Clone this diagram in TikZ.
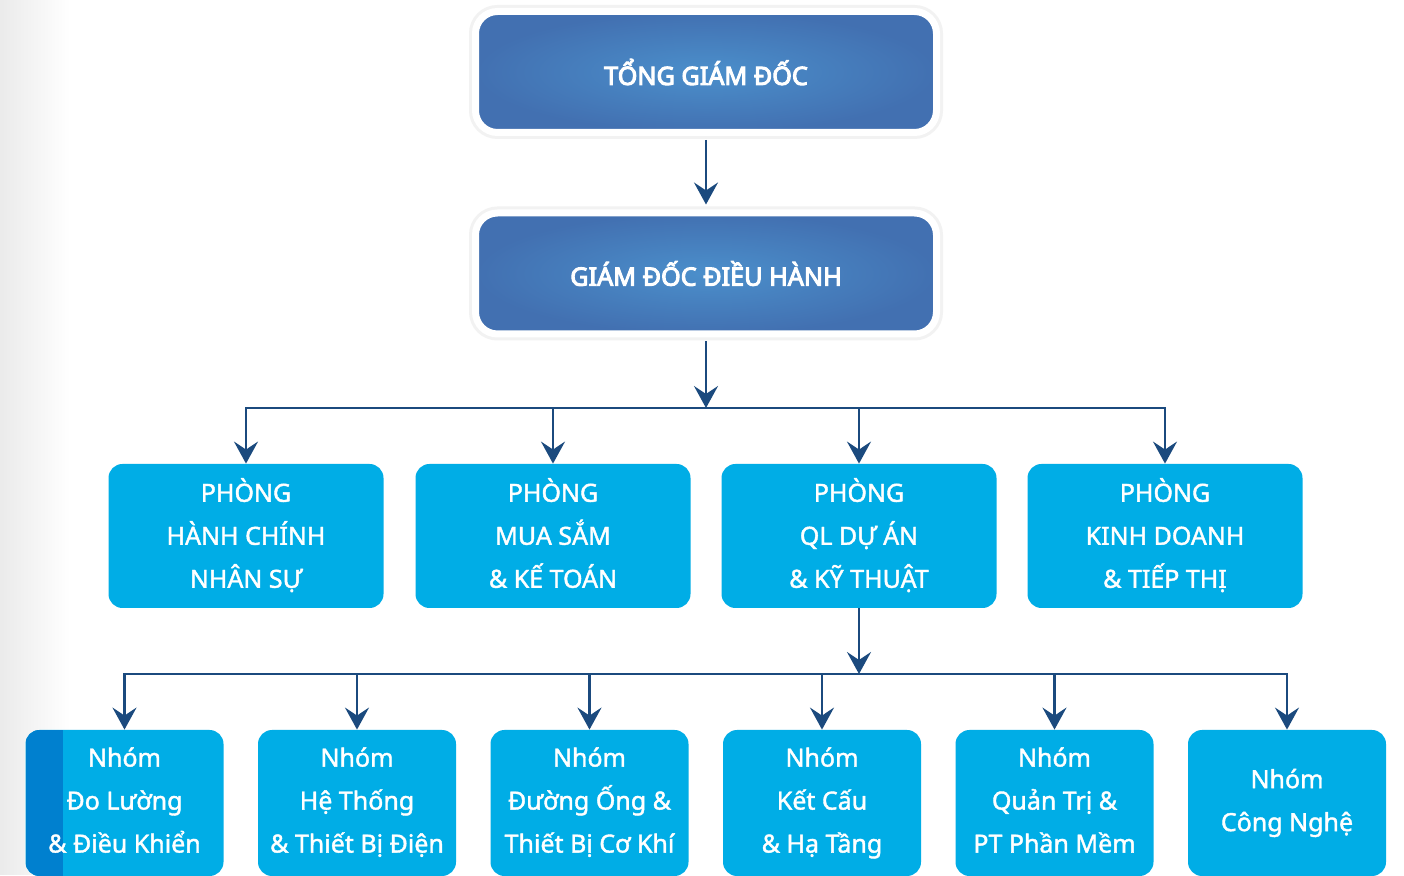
\documentclass[tikz,border=0pt]{standalone}
\usepackage{fontspec}
\setmainfont{Noto Sans}
\newfontfamily\headfont{Noto Sans}[FakeBold=4]
\newfontfamily\boxfont{Noto Sans}[FakeBold=1.6]
\usetikzlibrary{arrows.meta}
\definecolor{topin}{HTML}{4B8FCB}
\definecolor{topout}{HTML}{4270B1}
\definecolor{boxblue}{HTML}{00ADE6}
\definecolor{stripblue}{HTML}{0080CF}
\definecolor{linkblue}{HTML}{1B4A7E}
\tikzset{
  topbox/.style={draw=white, line width=3.5pt, rounded corners=11pt,
    inner color=topin, outer color=topout,
    preaction={draw=black!5, line width=6.5pt},
    minimum width=230.5pt, minimum height=60.5pt, text=white,
    font=\headfont\fontsize{12.6}{14}\selectfont},
  phong/.style={fill=boxblue, rounded corners=7pt, minimum width=137.5pt,
    minimum height=72pt, text=white, align=center,
    font=\boxfont\fontsize{12.5}{21.5}\selectfont,
    execute at end node={\vphantom{gẬ}}},
  nhom/.style={phong, minimum width=99pt, minimum height=73pt},
  nhomstrip/.style={nhom, path picture={\fill[stripblue, sharp corners]
    (path picture bounding box.north west) rectangle
    ([xshift=18.5pt]path picture bounding box.south west);}},
  link/.style={draw=linkblue, line width=1.25pt},
  conn/.style={link, -{Stealth[length=11pt, width=12pt, inset=4pt]}}
}
\begin{document}
\begin{tikzpicture}[x=0.5pt, y=-0.5pt]
  \fill[white] (0,0) rectangle (1404,875);
  \shade[left color=black!8, right color=white] (0,0) rectangle (70,875);

  \node[topbox] (tgd) at (706,72) {TỔNG GIÁM ĐỐC};
  \node[topbox] (gddh) at (706,273.5) {GIÁM ĐỐC ĐIỀU HÀNH};

  \foreach \i/\x/\txt in {1/246/{PHÒNG\\HÀNH CHÍNH\\NHÂN SỰ},
      2/553/{PHÒNG\\MUA SẮM\\\& KẾ TOÁN},
      3/859/{PHÒNG\\QL DỰ ÁN\\\& KỸ THUẬT},
      4/1165/{PHÒNG\\KINH DOANH\\\& TIẾP THỊ}}
    \node[phong] (ph\i) at (\x,536) {\txt};

  \foreach \i/\x/\st/\txt in {1/124.5/nhomstrip/{Nhóm\\Đo Lường\\\& Điều Khiển},
      2/357/nhom/{Nhóm\\Hệ Thống\\\& Thiết Bị Điện},
      3/589.5/nhom/{Nhóm\\Đường Ống \&\\Thiết Bị Cơ Khí},
      4/822/nhom/{Nhóm\\Kết Cấu\\\& Hạ Tầng},
      5/1054.5/nhom/{Nhóm\\Quản Trị \&\\PT Phần Mềm},
      6/1287/nhom/{Nhóm\\Công Nghệ}}
    \node[\st] (nh\i) at (\x,803) {\txt};

  \draw[conn, shorten <=2pt, shorten >=2.5pt] (tgd) -- (gddh);

  \coordinate (bar1) at (706,408);
  \draw[conn, shorten <=2pt] (gddh) -- (bar1);
  \draw[link, line cap=rect] (ph1.north |- bar1) -- (ph4.north |- bar1);
  \foreach \i in {1,...,4}
    \draw[conn] (ph\i.north |- bar1) -- (ph\i.north);

  \coordinate (bar2) at (859,674);
  \draw[conn] (ph3) -- (bar2);
  \draw[link, line cap=rect] (nh1.north |- bar2) -- (nh6.north |- bar2);
  \foreach \i in {1,...,6}
    \draw[conn] (nh\i.north |- bar2) -- (nh\i.north);
\end{tikzpicture}
\end{document}
